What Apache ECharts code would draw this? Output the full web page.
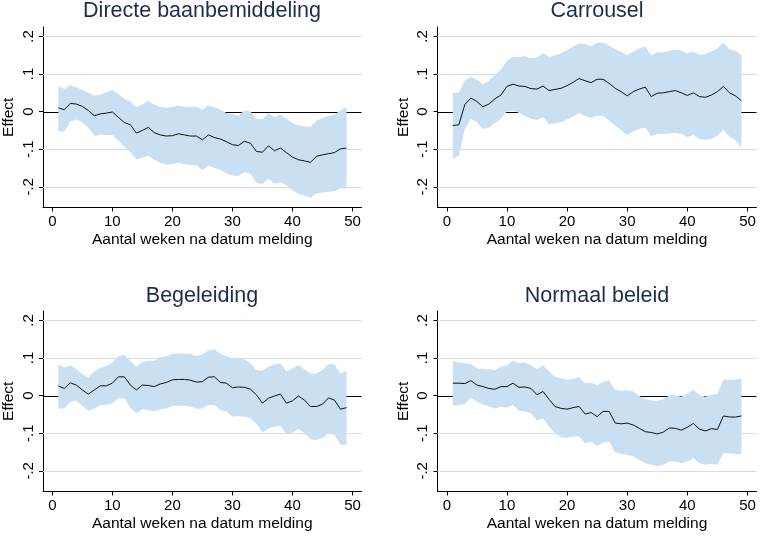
<!DOCTYPE html>
<html>
<head>
<meta charset="utf-8">
<script src="https://cdn.jsdelivr.net/npm/echarts@6/dist/echarts.min.js"></script>
<style>
  html, body { margin: 0; padding: 0; background: #ffffff; }
  #chart { width: 760px; height: 536px; }
</style>
</head>
<body>
<div id="chart"></div>
<script>
const weeks = [1,2,3,4,5,6,7,8,9,10,11,12,13,14,15,16,17,18,19,20,21,22,23,24,25,26,27,28,29,30,31,32,33,34,35,36,37,38,39,40,41,42,43,44,45,46,47,48,49];
const panelTitles = ['Directe baanbemiddeling', 'Carrousel', 'Begeleiding', 'Normaal beleid'];
const xTicks = [0, 10, 20, 30, 40, 50];
const yTicks = [-0.2, -0.1, 0, 0.1, 0.2];
const yTickLabels = ['-.2', '-.1', '0', '.1', '.2'];
const xTitle = 'Aantal weken na datum melding';
const yTitle = 'Effect';

// Directe baanbemiddeling
const dbEffect = [0.010,0.005,0.022,0.020,0.014,0.003,-0.011,-0.006,-0.004,-0.001,-0.015,-0.029,-0.035,-0.057,-0.050,-0.042,-0.056,-0.062,-0.065,-0.064,-0.059,-0.062,-0.065,-0.065,-0.075,-0.062,-0.069,-0.073,-0.080,-0.088,-0.090,-0.079,-0.084,-0.106,-0.108,-0.091,-0.104,-0.097,-0.109,-0.121,-0.128,-0.131,-0.135,-0.119,-0.115,-0.112,-0.109,-0.099,-0.097];
const dbUpper = [0.069,0.060,0.071,0.065,0.058,0.050,0.043,0.045,0.052,0.058,0.047,0.034,0.027,0.012,0.019,0.029,0.018,0.012,0.010,0.012,0.016,0.013,0.012,0.013,0.005,0.016,0.012,0.005,-0.004,-0.007,-0.010,0.003,0.000,-0.019,-0.021,-0.004,-0.015,-0.008,-0.019,-0.031,-0.037,-0.039,-0.040,-0.024,-0.017,-0.012,-0.008,0.003,0.012];
const dbLower = [-0.052,-0.053,-0.026,-0.021,-0.028,-0.042,-0.064,-0.061,-0.062,-0.062,-0.077,-0.093,-0.108,-0.127,-0.123,-0.117,-0.128,-0.136,-0.141,-0.139,-0.136,-0.140,-0.142,-0.143,-0.155,-0.143,-0.150,-0.155,-0.164,-0.170,-0.172,-0.161,-0.165,-0.190,-0.192,-0.179,-0.192,-0.188,-0.196,-0.210,-0.219,-0.223,-0.229,-0.217,-0.216,-0.213,-0.212,-0.204,-0.205];

// Carrousel
const caEffect = [-0.037,-0.035,0.019,0.036,0.027,0.013,0.020,0.034,0.044,0.067,0.073,0.068,0.067,0.061,0.060,0.068,0.056,0.059,0.062,0.069,0.078,0.088,0.082,0.077,0.086,0.086,0.075,0.062,0.053,0.042,0.053,0.060,0.065,0.040,0.049,0.050,0.053,0.056,0.050,0.043,0.050,0.040,0.038,0.044,0.053,0.067,0.050,0.042,0.029];
const caUpper = [0.050,0.050,0.084,0.092,0.085,0.073,0.082,0.098,0.111,0.135,0.146,0.145,0.147,0.142,0.144,0.155,0.146,0.150,0.155,0.164,0.173,0.181,0.180,0.173,0.183,0.184,0.175,0.166,0.159,0.150,0.160,0.168,0.173,0.149,0.158,0.158,0.162,0.165,0.162,0.155,0.160,0.151,0.153,0.160,0.168,0.184,0.166,0.162,0.150];
const caLower = [-0.126,-0.117,-0.046,-0.019,-0.028,-0.046,-0.042,-0.030,-0.019,0.000,0.003,-0.004,-0.011,-0.019,-0.022,-0.015,-0.033,-0.031,-0.028,-0.021,-0.013,-0.004,-0.011,-0.017,-0.011,-0.011,-0.024,-0.037,-0.050,-0.062,-0.053,-0.046,-0.042,-0.066,-0.059,-0.059,-0.058,-0.056,-0.059,-0.068,-0.062,-0.073,-0.075,-0.073,-0.064,-0.049,-0.066,-0.077,-0.095];

// Begeleiding
const beEffect = [0.026,0.019,0.034,0.028,0.015,0.004,0.015,0.026,0.026,0.033,0.050,0.050,0.028,0.015,0.028,0.027,0.024,0.031,0.035,0.042,0.043,0.043,0.041,0.036,0.037,0.049,0.050,0.035,0.033,0.021,0.023,0.022,0.017,0.002,-0.020,-0.007,-0.001,0.004,-0.020,-0.014,-0.001,-0.012,-0.029,-0.029,-0.023,-0.006,-0.012,-0.036,-0.032];
const beUpper = [0.084,0.075,0.081,0.071,0.057,0.049,0.064,0.074,0.079,0.088,0.105,0.108,0.092,0.077,0.090,0.093,0.093,0.102,0.105,0.111,0.112,0.112,0.111,0.105,0.110,0.119,0.123,0.111,0.105,0.099,0.099,0.096,0.086,0.068,0.066,0.077,0.083,0.086,0.064,0.073,0.081,0.070,0.059,0.059,0.068,0.084,0.083,0.059,0.066];
const beLower = [-0.034,-0.034,-0.016,-0.014,-0.027,-0.040,-0.034,-0.025,-0.025,-0.020,-0.007,-0.007,-0.032,-0.047,-0.036,-0.038,-0.041,-0.036,-0.034,-0.027,-0.027,-0.027,-0.029,-0.035,-0.034,-0.025,-0.025,-0.038,-0.042,-0.056,-0.054,-0.056,-0.060,-0.075,-0.098,-0.087,-0.082,-0.081,-0.103,-0.098,-0.089,-0.100,-0.116,-0.118,-0.113,-0.100,-0.104,-0.131,-0.131];

// Normaal beleid
const nbEffect = [0.033,0.033,0.032,0.040,0.028,0.024,0.019,0.017,0.024,0.024,0.033,0.022,0.023,0.019,0.002,0.011,-0.010,-0.029,-0.034,-0.036,-0.032,-0.029,-0.049,-0.045,-0.056,-0.042,-0.042,-0.073,-0.075,-0.073,-0.078,-0.087,-0.096,-0.098,-0.102,-0.097,-0.086,-0.087,-0.092,-0.084,-0.074,-0.089,-0.094,-0.088,-0.090,-0.054,-0.057,-0.057,-0.054];
const nbUpper = [0.093,0.089,0.086,0.084,0.073,0.070,0.070,0.068,0.077,0.080,0.093,0.086,0.088,0.081,0.070,0.081,0.064,0.050,0.046,0.042,0.045,0.049,0.033,0.035,0.027,0.037,0.040,0.015,0.013,0.015,0.011,-0.001,-0.010,-0.013,-0.014,-0.010,0.001,0.001,-0.003,0.006,0.015,0.002,-0.003,0.002,0.004,0.042,0.042,0.043,0.046];
const nbLower = [-0.027,-0.025,-0.022,-0.005,-0.016,-0.023,-0.029,-0.034,-0.029,-0.032,-0.025,-0.040,-0.042,-0.047,-0.066,-0.060,-0.082,-0.100,-0.111,-0.113,-0.109,-0.109,-0.127,-0.122,-0.134,-0.125,-0.122,-0.151,-0.155,-0.158,-0.162,-0.171,-0.180,-0.184,-0.188,-0.184,-0.175,-0.175,-0.180,-0.175,-0.166,-0.180,-0.184,-0.182,-0.184,-0.153,-0.153,-0.155,-0.156];

const panels = [
  { effect: dbEffect, upper: dbUpper, lower: dbLower },
  { effect: caEffect, upper: caUpper, lower: caLower },
  { effect: beEffect, upper: beUpper, lower: beLower },
  { effect: nbEffect, upper: nbUpper, lower: nbLower }
];

const FONT = '"Liberation Sans", Arial, Helvetica, sans-serif';
const TITLE_COLOR = '#1c2d4c';
const BAND_COLOR = '#c8e0f2';
const GRID_COLOR = '#dcdcdc';

const gridBoxes = [
  { left: 42, top: 27, width: 319.5, height: 180.5 },
  { left: 437.5, top: 27, width: 319, height: 180.5 },
  { left: 42, top: 311, width: 319.5, height: 180.5 },
  { left: 437.5, top: 311, width: 319, height: 180.5 }
];
const titlePos = [[202, 11.5], [597, 11.5], [202, 296], [597, 296]];

const grids = [], xAxes = [], yAxes = [], series = [], graphics = [];

panels.forEach((p, i) => {
  grids.push(Object.assign({ containLabel: false }, gridBoxes[i]));
  xAxes.push({
    type: 'value', gridIndex: i, min: -1.55, max: 51.5,
    name: xTitle, nameLocation: 'middle', nameGap: 24,
    nameTextStyle: { fontFamily: FONT, fontSize: 15.5, color: '#000' },
    axisLine: { show: true, onZero: false, lineStyle: { color: '#000', width: 1 } },
    axisTick: { show: true, length: 4, customValues: xTicks, lineStyle: { color: '#000' } },
    axisLabel: { customValues: xTicks, margin: 7, fontFamily: FONT, fontSize: 15, color: '#000' },
    splitLine: { show: false }
  });
  yAxes.push({
    type: 'value', gridIndex: i, min: -0.255, max: 0.225,
    name: yTitle, nameLocation: 'middle', nameGap: 26, nameRotate: 90,
    nameTextStyle: { fontFamily: FONT, fontSize: 15.5, color: '#000' },
    axisLine: { show: true, onZero: false, lineStyle: { color: '#000', width: 1 } },
    axisTick: { show: true, length: 4, customValues: yTicks, lineStyle: { color: '#000' } },
    axisLabel: {
      customValues: yTicks, rotate: 90, margin: 7, fontFamily: FONT, fontSize: 15, color: '#000',
      formatter: (v) => {
        const k = yTicks.findIndex(t => Math.abs(t - v) < 1e-9);
        return k >= 0 ? yTickLabels[k] : '';
      }
    },
    splitLine: { show: false }
  });

  // Confidence band (and horizontal reference lines beneath it), drawn through the axis scales
  series.push({
    type: 'custom', xAxisIndex: i, yAxisIndex: i, z: 2, silent: true,
    data: weeks.map((w, k) => [w, p.lower[k], p.upper[k]]),
    encode: { x: 0, y: [1, 2] },
    renderItem: (params, api) => {
      if (params.dataIndex !== 0) return null;
      const cs = params.coordSys;
      const children = [];
      yTicks.forEach(t => {
        const yy = Math.round(api.coord([0, t])[1]) + 0.5;
        children.push({
          type: 'line',
          shape: { x1: cs.x, y1: yy, x2: cs.x + cs.width, y2: yy },
          style: { stroke: t === 0 ? '#000' : GRID_COLOR, lineWidth: 1 }
        });
      });
      const topPts = weeks.map((w, k) => api.coord([w, p.upper[k]]));
      const botPts = weeks.map((w, k) => api.coord([w, p.lower[k]])).reverse();
      children.push({ type: 'polygon', shape: { points: topPts.concat(botPts) }, style: { fill: BAND_COLOR } });
      return { type: 'group', children: children };
    }
  });
  series.push({
    type: 'line', xAxisIndex: i, yAxisIndex: i, z: 4,
    data: weeks.map((w, k) => [w, p.effect[k]]),
    symbol: 'none', silent: true,
    lineStyle: { color: '#111', width: 1 }
  });

  graphics.push({
    type: 'text', x: titlePos[i][0], y: titlePos[i][1],
    style: { text: panelTitles[i], align: 'center', verticalAlign: 'middle', font: '21.5px ' + FONT, fill: TITLE_COLOR }
  });
});

const chart = echarts.init(document.getElementById('chart'), null, { renderer: 'canvas' });
chart.setOption({
  animation: false,
  backgroundColor: '#ffffff',
  grid: grids, xAxis: xAxes, yAxis: yAxes, series: series, graphic: graphics
});
</script>
</body>
</html>
